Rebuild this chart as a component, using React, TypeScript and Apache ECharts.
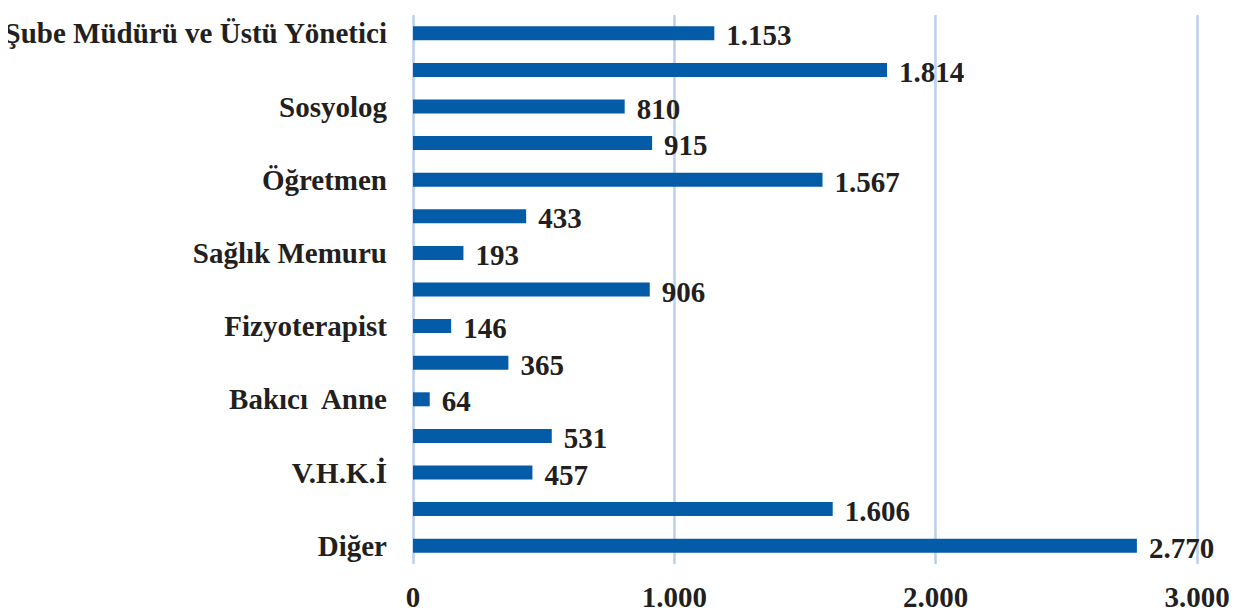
import React, { useEffect, useRef } from "react";
import * as echarts from "echarts";

const categories = [
  "Şube Müdürü ve Üstü Yönetici",
  "Psikolog",
  "Sosyolog",
  "Sosyal Çalışmacı",
  "Öğretmen",
  "Hemşire",
  "Sağlık Memuru",
  "Çocuk Gelişimci",
  "Fizyoterapist",
  "Memur",
  "Bakıcı  Anne",
  "Teknisyen",
  "V.H.K.İ",
  "Hizmetli",
  "Diğer",
];
const values = [1153, 1814, 810, 915, 1567, 433, 193, 906, 146, 365, 64, 531, 457, 1606, 2770];
const xTicks = { min: 0, max: 3000, interval: 1000 };

const fmt = (v: number) => String(Math.round(v)).replace(/\B(?=(\d{3})+(?!\d))/g, ".");

export default function App() {
  const ref = useRef<HTMLDivElement>(null);
  useEffect(() => {
    if (!ref.current) return;
    const chart = echarts.init(ref.current, null, { renderer: "svg" });
    const font = "'Liberation Serif', 'Times New Roman', serif";
    chart.setOption({
      animation: false,
      grid: { left: 413, right: 41, top: 15, bottom: 51, containLabel: false },
      xAxis: {
        type: "value",
        min: xTicks.min,
        max: xTicks.max,
        interval: xTicks.interval,
        axisLine: { show: false },
        axisTick: { show: false },
        splitLine: { show: true, lineStyle: { color: "#bccfec", width: 2.5 } },
        axisLabel: {
          formatter: (v: number) => fmt(v),
          fontFamily: font,
          fontWeight: "bold",
          fontSize: 29,
          color: "#231f20",
          margin: 18,
        },
      },
      yAxis: {
        type: "category",
        data: categories,
        inverse: true,
        axisLine: { show: false },
        axisTick: { show: false },
        axisLabel: {
          interval: 1,
          fontFamily: font,
          fontWeight: "bold",
          fontSize: 29,
          color: "#231f20",
          margin: 26,
        },
      },
      series: [
        {
          type: "bar",
          data: values,
          barWidth: 14,
          itemStyle: { color: "#045ba8" },
          label: {
            show: true,
            position: "right",
            distance: 12,
            offset: [0, 2],
            formatter: (p: any) => fmt(p.value),
            fontFamily: font,
            fontWeight: "bold",
            fontSize: 29,
            color: "#231f20",
          },
        },
      ],
    });
    return () => chart.dispose();
  }, []);
  return <div ref={ref} style={{ width: 1238, height: 615, margin: -8 }} />;
}
